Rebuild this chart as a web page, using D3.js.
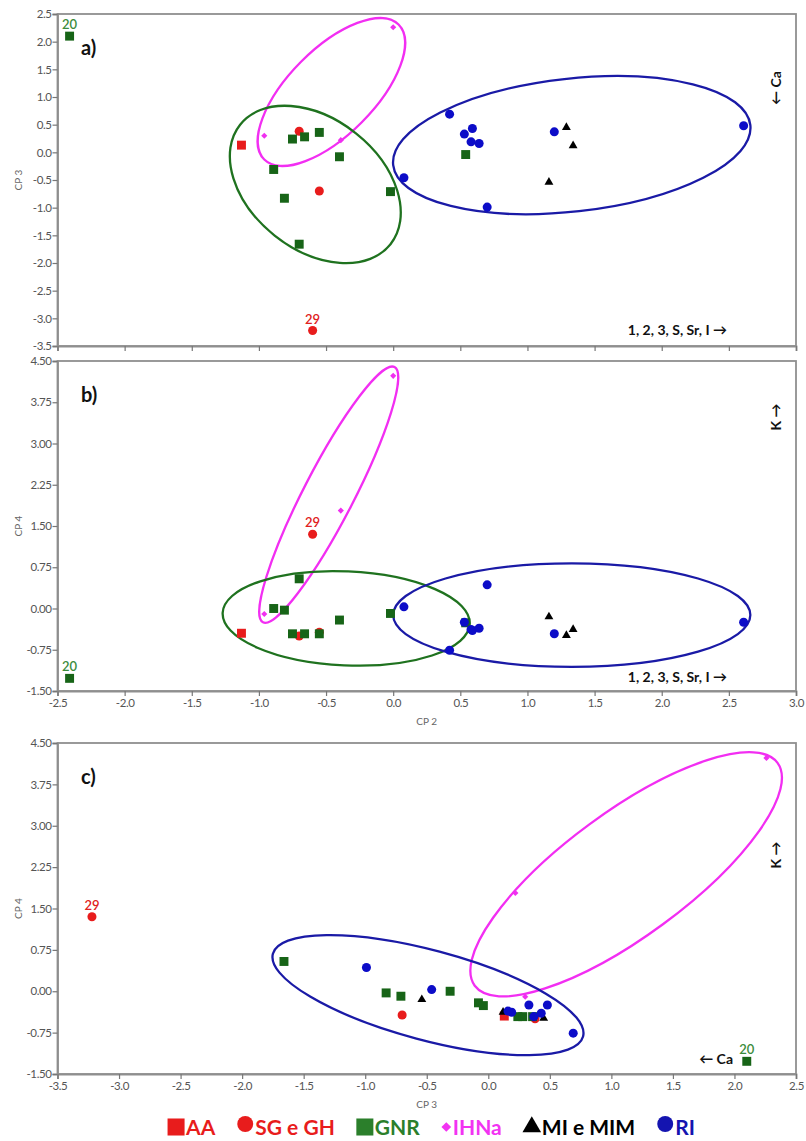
<!DOCTYPE html>
<html>
<head>
<meta charset="utf-8">
<script src="https://cdn.jsdelivr.net/npm/d3@7"></script>
<style>
  body { margin: 0; background: #fff; }
  svg text { font-family: Lato, "Open Sans", sans-serif; }
</style>
</head>
<body>
<div id="chart"></div>
<script>
// groups, in legend order
const groupNames = ["AA", "SG e GH", "GNR", "IHNa", "MI e MIM", "RI"];

// sample scores, each row is [CP2, CP3, CP4]
const aaScores = [[-1.13, 0.13, -0.45]];
const sgScores = [
  [-0.70, 0.38, -0.50],
  [-0.55, -0.70, -0.43],
  [-0.60, -3.22, 1.35] // sample 29
];
const gnrScores = [
  [-2.41, 2.10, -1.27], // sample 20
  [-0.75, 0.24, -0.46],
  [-0.66, 0.28, -0.46],
  [-0.55, 0.36, -0.46],
  [-0.40, -0.08, -0.21],
  [-0.89, -0.31, 0.00],
  [-0.81, -0.83, -0.03],
  [-0.70, -1.66, 0.54],
  [-0.02, -0.71, -0.09],
  [0.54, -0.04, -0.26]
];
const ihnaScores = [
  [-0.96, 0.30, -0.10],
  [-0.39, 0.22, 1.78],
  [0.00, 2.26, 4.23]
];
const miScores = [
  [1.16, -0.54, -0.15],
  [1.34, 0.12, -0.38],
  [1.29, 0.45, -0.49]
];
const riScores = [
  [0.42, 0.69, -0.76],
  [0.08, -0.46, 0.03],
  [0.70, -0.99, 0.43],
  [0.53, 0.33, -0.25],
  [0.59, 0.43, -0.40],
  [0.58, 0.19, -0.38],
  [0.64, 0.16, -0.36],
  [1.20, 0.37, -0.46],
  [2.61, 0.48, -0.25]
];

// numbered samples: [group, row, label]
const numberedSamples = [["GNR", 0, "20"], ["SG e GH", 2, "29"]];

// group ellipses: centre, end of major axis (data units), minor/major ratio
const ellipsesA = [
  { group: "IHNa", c: [-0.46, 1.09], e: [0.04, 2.31], ratio: 0.45 },
  { group: "GNR", c: [-0.58, -0.58], e: [-0.02, -1.66], ratio: 0.68 },
  { group: "RI", c: [1.33, 0.13], e: [2.66, 0.49], ratio: 0.37 }
];
const ellipsesB = [
  { group: "IHNa", c: [-0.48, 2.07], e: [0.01, 4.39], ratio: 0.175 },
  { group: "GNR", c: [-0.35, -0.18], e: [0.57, -0.28], ratio: 0.38 },
  { group: "RI", c: [1.33, -0.12], e: [2.66, -0.12], ratio: 0.29 }
];
const ellipsesC = [
  { group: "IHNa", c: [1.12, 2.12], e: [2.35, 4.14], ratio: 0.33 },
  { group: "RI", c: [-0.49, -0.07], e: [0.77, -0.82], ratio: 0.28 }
];

// tick values
const cp2Ticks = [-2.5, -2.0, -1.5, -1.0, -0.5, 0.0, 0.5, 1.0, 1.5, 2.0, 2.5, 3.0];
const cp3TicksA = [-3.5, -3.0, -2.5, -2.0, -1.5, -1.0, -0.5, 0.0, 0.5, 1.0, 1.5, 2.0, 2.5];
const cp3TicksC = [-3.5, -3.0, -2.5, -2.0, -1.5, -1.0, -0.5, 0.0, 0.5, 1.0, 1.5, 2.0, 2.5];
const cp4Ticks = [-1.5, -0.75, 0.0, 0.75, 1.5, 2.25, 3.0, 3.75, 4.5];

const scoresByGroup = {
  "AA": aaScores,
  "SG e GH": sgScores,
  "GNR": gnrScores,
  "IHNa": ihnaScores,
  "MI e MIM": miScores,
  "RI": riScores
};

const markerColor = {
  "AA": "#e81c1c", "SG e GH": "#e81c1c", "GNR": "#176417",
  "IHNa": "#f030f0", "MI e MIM": "#000", "RI": "#0c0cc8"
};
const legendColor = {
  "AA": "#e81c1c", "SG e GH": "#e81c1c", "GNR": "#2b7f2b",
  "IHNa": "#f233f2", "MI e MIM": "#000", "RI": "#1414b0"
};
const ellipseColor = { "GNR": "#1f721f", "IHNa": "#f22ef2", "RI": "#1a1aa6" };
const labelColor = { "GNR": "#3c8c3c", "SG e GH": "#e02020" };

const symbolType = {
  "AA": d3.symbolSquare, "SG e GH": d3.symbolCircle, "GNR": d3.symbolSquare,
  "IHNa": d3.symbolDiamond2, "MI e MIM": d3.symbolTriangle, "RI": d3.symbolCircle
};
const symbolSize = {
  "AA": 80, "SG e GH": 64, "GNR": 80, "IHNa": 24, "MI e MIM": 34, "RI": 64
};

const width = 806, height = 1141;
const left = 57.5, right = 796;

const svg = d3.select("#chart").append("svg")
  .attr("width", width)
  .attr("height", height);

const panels = [
  {
    tag: "a)", xi: 0, yi: 1, xDom: [-2.5, 3.0], yDom: [-3.5, 2.5], top: 14, bottom: 346,
    xTicks: cp2Ticks, yTicks: cp3TicksA, yFmt: 1, xLabels: false, yTitle: "CP 3",
    ellipses: ellipsesA,
    notes: [
      { text: "1, 2, 3, S, Sr, I \u2192", x: 727, y: 335, anchor: "end" },
      { text: "\u2190 Ca", x: 781, y: 88, rotate: true }
    ]
  },
  {
    tag: "b)", xi: 0, yi: 2, xDom: [-2.5, 3.0], yDom: [-1.5, 4.5], top: 361, bottom: 691,
    xTicks: cp2Ticks, yTicks: cp4Ticks, yFmt: 2, xLabels: true, xTitle: "CP 2", yTitle: "CP 4",
    ellipses: ellipsesB,
    notes: [
      { text: "1, 2, 3, S, Sr, I \u2192", x: 727, y: 682, anchor: "end" },
      { text: "K \u2192", x: 781, y: 417, rotate: true }
    ]
  },
  {
    tag: "c)", xi: 1, yi: 2, xDom: [-3.5, 2.5], yDom: [-1.5, 4.5], top: 743, bottom: 1074,
    xTicks: cp3TicksC, yTicks: cp4Ticks, yFmt: 2, xLabels: true, xTitle: "CP 3", yTitle: "CP 4",
    ellipses: ellipsesC,
    notes: [
      { text: "\u2190 Ca", x: 733, y: 1064, anchor: "end" },
      { text: "K \u2192", x: 781, y: 855, rotate: true }
    ]
  }
];

panels.forEach(function (p) {
  const x = d3.scaleLinear().domain(p.xDom).range([left, right]);
  const y = d3.scaleLinear().domain(p.yDom).range([p.bottom, p.top]);
  const g = svg.append("g");

  // frame
  g.append("rect")
    .attr("x", left).attr("y", p.top)
    .attr("width", right - left).attr("height", p.bottom - p.top)
    .attr("fill", "none").attr("stroke", "#8f8f8f").attr("stroke-width", 1.8);

  // axes
  const yAxis = d3.axisLeft(y).tickValues(p.yTicks).tickSize(5)
    .tickFormat((d) => d.toFixed(p.yFmt));
  const xAxis = d3.axisBottom(x).tickValues(p.xTicks).tickSize(5)
    .tickFormat((d) => (p.xLabels ? d.toFixed(1) : ""));

  const ya = g.append("g").attr("transform", `translate(${left},0)`).call(yAxis);
  const xa = g.append("g").attr("transform", `translate(0,${p.bottom})`).call(xAxis);
  [ya, xa].forEach(function (a) {
    a.select(".domain").attr("stroke", "#8f8f8f").attr("stroke-width", 1.8);
    a.selectAll(".tick line").attr("stroke", "#777").attr("stroke-width", 1.2);
    a.selectAll(".tick text").attr("fill", "#555").style("font-size", "11.5px")
      .style("letter-spacing", "-0.4px");
  });
  ya.selectAll(".tick text").attr("x", -6);
  xa.selectAll(".tick text").attr("y", 8);

  // axis titles
  g.append("text")
    .attr("transform", `translate(22,${(p.top + p.bottom) / 2}) rotate(-90)`)
    .attr("text-anchor", "middle")
    .attr("fill", "#666").style("font-size", "10px")
    .text(p.yTitle);
  if (p.xTitle) {
    g.append("text")
      .attr("x", (left + right) / 2).attr("y", p.bottom + 34)
      .attr("text-anchor", "middle")
      .attr("fill", "#666").style("font-size", "10px")
      .text(p.xTitle);
  }

  // ellipses
  p.ellipses.forEach(function (el) {
    const cx = x(el.c[0]), cy = y(el.c[1]);
    const ex = x(el.e[0]), ey = y(el.e[1]);
    const a = Math.hypot(ex - cx, ey - cy);
    const ang = Math.atan2(ey - cy, ex - cx) * 180 / Math.PI;
    g.append("ellipse")
      .attr("cx", 0).attr("cy", 0)
      .attr("rx", a).attr("ry", a * el.ratio)
      .attr("transform", `translate(${cx},${cy}) rotate(${ang})`)
      .attr("fill", "none")
      .attr("stroke", ellipseColor[el.group])
      .attr("stroke-width", 2.3);
  });

  // points
  groupNames.forEach(function (name) {
    g.append("g").selectAll("path")
      .data(scoresByGroup[name])
      .enter()
      .append("path")
      .attr("d", d3.symbol().type(symbolType[name]).size(symbolSize[name]))
      .attr("transform", (d) => `translate(${x(d[p.xi])},${y(d[p.yi])})`)
      .attr("fill", markerColor[name]);
  });

  // numbered samples
  numberedSamples.forEach(function (s) {
    const d = scoresByGroup[s[0]][s[1]];
    g.append("text")
      .attr("x", x(d[p.xi])).attr("y", y(d[p.yi]) - 7)
      .attr("text-anchor", "middle")
      .attr("fill", labelColor[s[0]])
      .style("font-size", "13px").style("font-weight", 600)
      .text(s[2]);
  });

  // panel tag
  g.append("text")
    .attr("x", 81).attr("y", p.top + 41)
    .style("font-size", "20px").style("font-weight", 700)
    .attr("fill", "#111")
    .text(p.tag);

  // loading notes
  p.notes.forEach(function (n) {
    const t = g.append("text")
      .style("font-size", "14px").style("font-weight", 700)
      .attr("fill", "#111")
      .text(n.text);
    if (n.rotate) {
      t.attr("text-anchor", "middle")
        .attr("transform", `translate(${n.x},${n.y}) rotate(-90)`);
    } else {
      t.attr("x", n.x).attr("y", n.y).attr("text-anchor", n.anchor);
    }
  });
});

// legend
const legend = svg.append("g");
let lx = 0;
groupNames.forEach(function (name) {
  const item = legend.append("g");
  let sym;
  if (name === "AA" || name === "GNR") {
    sym = d3.symbol().type(d3.symbolSquare).size(290);
  } else if (name === "IHNa") {
    sym = d3.symbol().type(d3.symbolDiamond2).size(60);
  } else if (name === "MI e MIM") {
    sym = d3.symbol().type(d3.symbolTriangle).size(150);
  } else {
    sym = d3.symbol().type(d3.symbolCircle).size(200);
  }
  const symW = name === "IHNa" ? 11 : 18;
  item.append("path")
    .attr("d", sym)
    .attr("transform", `translate(${symW / 2},${name === "SG e GH" || name === "RI" ? -3 : 0})`)
    .attr("fill", legendColor[name]);
  const t = item.append("text")
    .attr("x", symW + 1).attr("y", 8)
    .style("font-size", "21px").style("font-weight", 700)
    .attr("fill", legendColor[name])
    .text(name);
  const w = symW + 1 + t.node().getComputedTextLength();
  item.attr("transform", `translate(${lx},0)`);
  lx += w + 21;
});
const legendWidth = lx - 21;
legend.attr("transform", `translate(${431 - legendWidth / 2},1127)`);
</script>
</body>
</html>
